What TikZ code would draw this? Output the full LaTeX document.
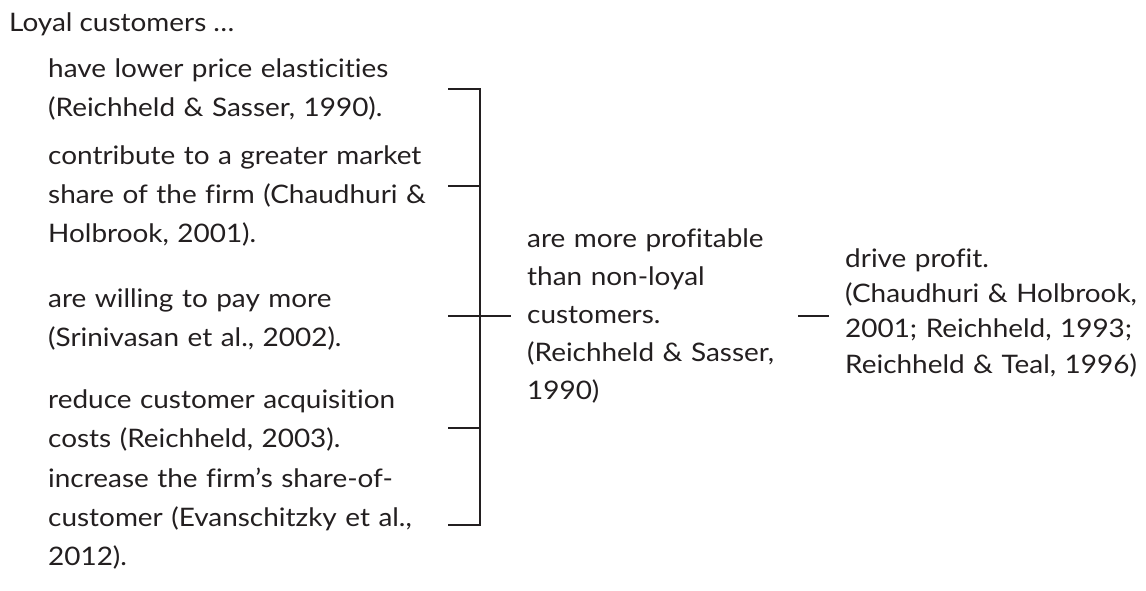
\documentclass[tikz,border=0pt]{standalone}
\usepackage{fontspec}
\setmainfont{Lato}[FakeStretch=1.095, Ligatures=NoCommon]
\definecolor{ink}{RGB}{35,31,32}
\begin{document}
\begin{tikzpicture}[x=1pt,y=-1pt,
  txt/.style={inner sep=0pt, text=ink, font=\fontsize{25.5}{39}\selectfont},
  blk/.style={txt, anchor=north west, align=left, text width=#1},
  mblk/.style={inner sep=0pt, text=ink, font=\fontsize{25.5}{38}\selectfont, anchor=north west, align=left, text width=#1},
  rblk/.style={inner sep=0pt, text=ink, font=\fontsize{25.5}{35.3}\selectfont, anchor=north west, align=left, text width=#1},
  conn/.style={draw=ink, line width=1.6pt}]
\useasboundingbox (0,0) rectangle (1146,590);
\fill[white] (0,0) rectangle (1146,590);

\node[txt, anchor=base west] (lead) at (9,31) {Loyal customers …};

% strut height = 0.7 baselineskip (27.3 for 39pt)
\node[blk=420pt] (b1) at (48,77-27.3) {\strut have lower price elasticities\\(Reichheld \& Sasser, 1990).};
\node[blk=420pt] (b2) at (48,164-27.3) {\strut contribute to a greater market\\share of the firm (Chaudhuri \&\\Holbrook, 2001).};
\node[blk=420pt] (b3) at (48,307-27.3) {\strut are willing to pay more\\(Srinivasan et al., 2002).};
\node[blk=420pt] (b4) at (48,408-27.3) {\strut reduce customer acquisition\\costs (Reichheld, 2003).};
\node[blk=420pt] (b5) at (48,487-27.3) {\strut increase the firm’s share-of-\\customer (Evanschitzky et al.,\\2012).};

\node[mblk=300pt] (mid) at (527,247-26.6) {\strut are more profitable\\than non-loyal\\customers.\\(Reichheld \& Sasser,\\1990)};

\node[rblk=300pt] (res) at (845,267-24.71) {\strut drive profit.\\(Chaudhuri \& Holbrook,\\2001; Reichheld, 1993;\\Reichheld \& Teal, 1996)};

% bracket coordinates
\coordinate (t1) at (448,89);  \coordinate (j1) at (480,89);
\coordinate (t2) at (448,186); \coordinate (j2) at (480,186);
\coordinate (t3) at (448,316); \coordinate (m3) at (511,316);
\coordinate (t4) at (448,428); \coordinate (j4) at (480,428);
\coordinate (t5) at (448,525); \coordinate (j5) at (480,525);
\coordinate (r1) at (798,316); \coordinate (r2) at (829,316);

\draw[conn] (t1) -- (j1) -- (j5) -- (t5);
\draw[conn] (t2) -- (j2);
\draw[conn] (t3) -- (m3);
\draw[conn] (t4) -- (j4);
\draw[conn] (r1) -- (r2);
\end{tikzpicture}
\end{document}
